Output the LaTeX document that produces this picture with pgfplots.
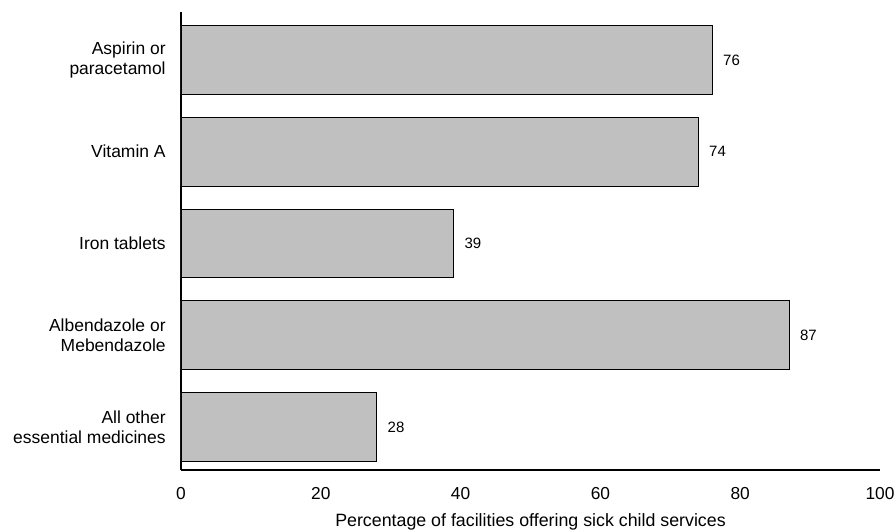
\documentclass[border=0pt]{standalone}
\usepackage{pgfplots}
\pgfplotsset{compat=1.18}
\usepackage{fontspec}
\setmainfont{Liberation Sans}
\definecolor{barfill}{RGB}{192,192,192}
\begin{document}
\begin{tikzpicture}
\begin{axis}[
  scale only axis,
  width=524.25pt, height=343.5pt,
  xbar,
  bar width=0.75,
  xmin=0, xmax=100,
  ymin=-0.523, ymax=4.469,
  y dir=reverse,
  axis lines*=left,
  axis line style={line width=0.8pt},
  xtick={0,20,40,60,80,100},
  ytick={0,1,2,3,4},
  yticklabels={Aspirin or\\paracetamol, Vitamin A, Iron tablets, Albendazole or\\Mebendazole, All other\\essential medicines},
  yticklabel style={align=right, font=\fontsize{13.1}{15}\selectfont},
  xticklabel style={font=\fontsize{13}{15}\selectfont, anchor=base, yshift=-21.75pt},
  /pgf/number format/assume math mode=true,
  major tick length=0pt,
  xticklabel shift=0pt,
  yticklabel shift=8pt,
  xlabel={Percentage of facilities offering sick child services},
  xlabel style={font=\fontsize{13.35}{15}\selectfont, anchor=base, at={(axis description cs:0.5,0)}, yshift=-42.3pt},
  nodes near coords,
  nodes near coords style={font=\fontsize{11.25}{13}\selectfont, anchor=west, xshift=4.5pt},
  every node near coord/.append style={/pgf/number format/assume math mode=true},
]
\addplot[fill=barfill, draw=black, line width=0.8pt] coordinates {
  (76,0) (74,1) (39,2) (87,3) (28,4)
};
\end{axis}
\pgfresetboundingbox
\path (-135.75pt,-45.75pt) rectangle (536.25pt,352.5pt);
\end{tikzpicture}
\end{document}
